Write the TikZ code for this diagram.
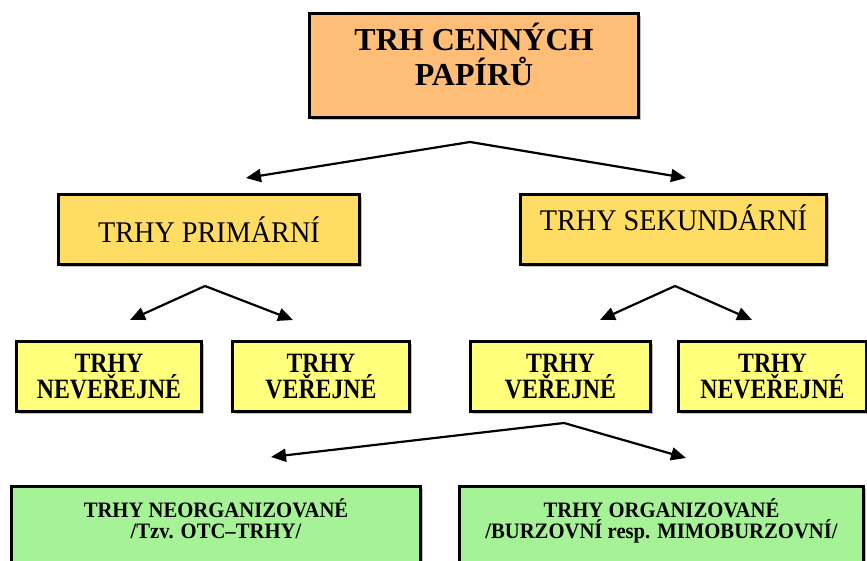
\documentclass[tikz,border=0pt]{standalone}
\usepackage{fontspec}
\setmainfont{Liberation Serif}
\newfontfamily\narrowfont[FakeStretch=0.85]{Liberation Serif}
\newfontfamily\slimfont[FakeStretch=0.94]{Liberation Serif}
\usetikzlibrary{arrows.meta,positioning,shadows}
\definecolor{topfill}{HTML}{FFBE78}
\definecolor{midfill}{HTML}{FFDC64}
\definecolor{lowfill}{HTML}{FFFF7C}
\definecolor{basefill}{HTML}{A6F296}

\begin{document}
\begin{tikzpicture}[x=1pt,y=1pt,
  box/.style={draw=black,line width=3pt,align=center,inner sep=0pt,
    drop shadow={shadow xshift=2.5pt,shadow yshift=-2.5pt,fill=black!25,opacity=1}},
  head/.style={box,fill=topfill,minimum width=329pt,minimum height=104pt,text depth=22pt,
    font=\fontsize{32}{35}\selectfont\bfseries},
  mid/.style={box,fill=midfill,minimum height=70pt,font=\fontsize{30}{32}\slimfont},
  low/.style={box,fill=lowfill,minimum height=70pt,font=\fontsize{28}{26}\narrowfont\bfseries},
  base/.style={box,fill=basefill,anchor=north,inner ysep=12pt,text depth=70pt,
    font=\fontsize{22}{21}\slimfont\bfseries},
  arr/.style={-{Triangle[length=15pt,width=13pt]},line width=2.2pt}]
\useasboundingbox (0,0) rectangle (867,561);
\clip (0,0) rectangle (867,561);
\node[head] (market) at (474,495.5) {TRH CENNÝCH\\PAPÍRŮ};
\node[mid,minimum width=301pt] (primary) at (209,331.5) {TRHY PRIMÁRNÍ};
\node[mid,minimum width=306pt,text depth=24pt,right=158pt of primary] (secondary) {TRHY SEKUNDÁRNÍ};
\node[low,minimum width=185pt] (private1) at (109,184.5) {TRHY\\NEVEŘEJNÉ};
\node[low,minimum width=177pt,right=28pt of private1] (public1) {TRHY\\VEŘEJNÉ};
\node[low,minimum width=180pt] (public2) at (560.5,184.5) {TRHY\\VEŘEJNÉ};
\node[low,minimum width=188pt,right=25pt of public2] (private2) {TRHY\\NEVEŘEJNÉ};
\node[base,minimum width=409pt] (otc) at (216,75.5) {TRHY NEORGANIZOVANÉ\\/Tzv. OTC–TRHY/};
\node[base,minimum width=404pt] (exchange) at (661.5,75.5) {TRHY ORGANIZOVANÉ\\/BURZOVNÍ resp. MIMOBURZOVNÍ/};
% fork points and arrow tips
\coordinate (fork1) at (470,419);
\coordinate (tip1a) at (246,383); \coordinate (tip1b) at (686,383);
\coordinate (fork2) at (205,275);
\coordinate (tip2a) at (130,241); \coordinate (tip2b) at (293,241);
\coordinate (fork3) at (675,275);
\coordinate (tip3a) at (600,241); \coordinate (tip3b) at (752,241);
\coordinate (fork4) at (564,138);
\coordinate (tip4a) at (271,104); \coordinate (tip4b) at (686,103);
\draw[arr] (fork1) -- (tip1a); \draw[arr] (fork1) -- (tip1b);
\draw[arr] (fork2) -- (tip2a); \draw[arr] (fork2) -- (tip2b);
\draw[arr] (fork3) -- (tip3a); \draw[arr] (fork3) -- (tip3b);
\draw[arr] (fork4) -- (tip4a); \draw[arr] (fork4) -- (tip4b);
\end{tikzpicture}
\end{document}
